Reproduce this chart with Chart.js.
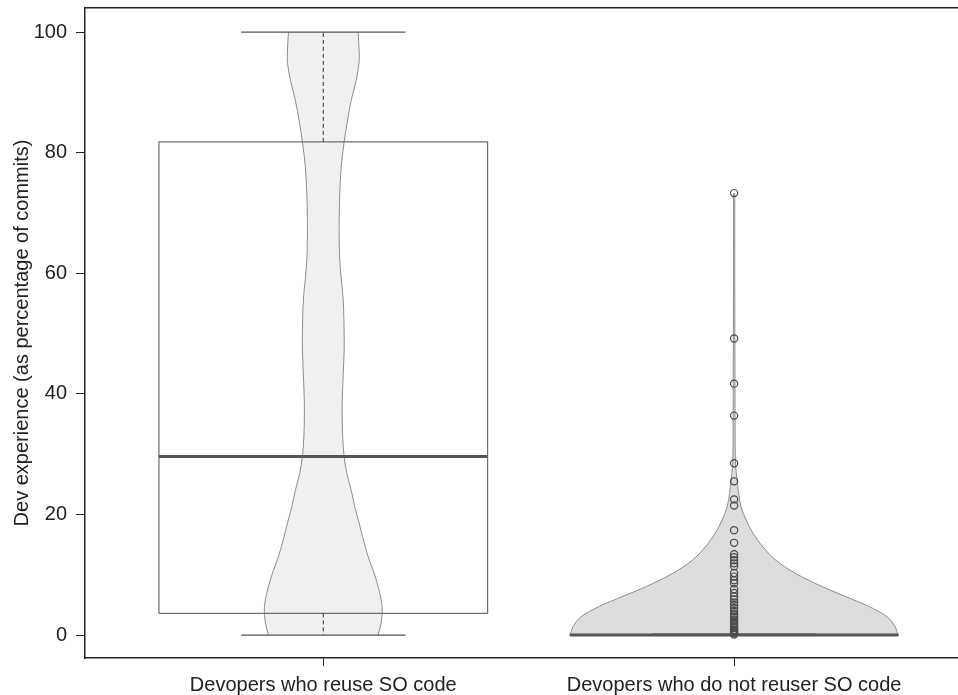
<!DOCTYPE html>
<html>
<head>
<meta charset="utf-8">
<script src="https://cdn.jsdelivr.net/npm/chart.js@4.4.1/dist/chart.umd.min.js"></script>
<style>
  html, body { margin: 0; padding: 0; background: #fff; overflow: hidden; }
  #wrap { width: 958px; height: 695px; position: relative; }
</style>
</head>
<body>
<div id="wrap"><canvas id="chart"></canvas></div>
<script>
// --- data ---
const categories = ['Devopers who reuse SO code', 'Devopers who do not reuser SO code'];
const catPos = [1, 2];

// box plot stats (percentage of commits)
const whiskerLow = [0, 0];
const q1 = [3.6, 0];
const medians = [29.6, 0];
const q3 = [81.8, 0];
const whiskerHigh = [100, 0.15];

// outliers of the second group
const outliersNoReuse = [73.3, 49.2, 41.7, 36.4, 28.5, 25.5, 22.5, 21.5, 17.4, 15.3,
  13.4, 12.9, 12.4, 11.9, 11.4, 10.3, 9.7, 9.1, 8.6, 7.6, 7.0, 6.4, 5.9, 5.4, 5.0,
  4.5, 4.0, 3.6, 3.3, 3.0, 2.6, 2.3, 2.0, 1.7, 1.4, 1.2, 0.9, 0.7, 0.5, 0.3, 0.1];

// violin outlines: value levels and relative density (1 = widest)
const violinReuseY = [0, 2, 4.6, 7.5, 10.3, 13, 16, 18.6, 21, 24, 27, 29.6, 33, 38, 43,
  47.3, 50, 55.6, 61, 65, 69.3, 73, 77.6, 81.8, 85, 88.7, 92, 95, 97, 100];
const violinReuseDensity = [0.333, 0.352, 0.358, 0.339, 0.309, 0.273, 0.242, 0.218, 0.194,
  0.170, 0.142, 0.127, 0.118, 0.115, 0.121, 0.127, 0.127, 0.121, 0.103, 0.097, 0.097,
  0.100, 0.109, 0.127, 0.145, 0.170, 0.200, 0.218, 0.218, 0.212];
const violinNoReuseY = [0, 0.3, 1.4, 3, 4.7, 6.4, 8, 10.2, 12.4, 14.6, 16.9, 19.1, 21.3,
  23.5, 25.7, 27.9, 30, 35, 45, 60, 73.3];
const violinNoReuseDensity = [1.000, 0.994, 0.980, 0.933, 0.824, 0.679, 0.539, 0.376, 0.255,
  0.176, 0.115, 0.073, 0.042, 0.028, 0.018, 0.010, 0.007, 0.006, 0.005, 0.004, 0.004];

const yTicks = [0, 20, 40, 60, 80, 100];

// --- styling ---
const BOX_HALF = 0.4;
const CAP_HALF = 0.2;
const VIOLIN_HALF = 0.4;
const violinFill = ['#eff0f2', '#dcdddf'];
const ink = '#222';

Chart.defaults.font.family = "'Liberation Sans', Arial, sans-serif";
Chart.defaults.font.size = 20;
Chart.defaults.color = ink;

const violins = [
  { y: violinReuseY, d: violinReuseDensity },
  { y: violinNoReuseY, d: violinNoReuseDensity }
];

const seg = (pts, extra) => Object.assign({
  type: 'line',
  data: pts,
  showLine: true,
  tension: 0,
  pointRadius: 0,
  fill: false
}, extra);

// keep the plot area exactly where we put it
const noPad = s => { s.paddingTop = 0; s.paddingBottom = 0; s.paddingLeft = 0; s.paddingRight = 0; };

const datasets = [];

catPos.forEach((c, i) => {
  const v = violins[i];
  // violin: left and right side, filled between
  datasets.push({
    type: 'line',
    indexAxis: 'y',
    data: v.y.map((y, k) => ({ x: c - v.d[k] * VIOLIN_HALF, y })),
    borderColor: '#8c8c8c',
    borderWidth: 1,
    backgroundColor: violinFill[i],
    tension: 0.35,
    pointRadius: 0,
    fill: '+1',
    order: 6
  });
  datasets.push({
    type: 'line',
    indexAxis: 'y',
    data: v.y.map((y, k) => ({ x: c + v.d[k] * VIOLIN_HALF, y })),
    borderColor: '#8c8c8c',
    borderWidth: 1,
    tension: 0.35,
    pointRadius: 0,
    fill: false,
    order: 5
  });

  // box
  datasets.push(seg([
    { x: c - BOX_HALF, y: q1[i] }, { x: c + BOX_HALF, y: q1[i] },
    { x: c + BOX_HALF, y: q3[i] }, { x: c - BOX_HALF, y: q3[i] },
    { x: c - BOX_HALF, y: q1[i] }
  ], { borderColor: '#6e6e6e', borderWidth: 1.2, order: 4 }));

  // dashed whiskers
  datasets.push(seg([{ x: c, y: q1[i] }, { x: c, y: whiskerLow[i] }],
    { borderColor: '#333', borderWidth: 1, borderDash: [4, 3], order: 3 }));
  datasets.push(seg([{ x: c, y: q3[i] }, { x: c, y: whiskerHigh[i] }],
    { borderColor: '#333', borderWidth: 1, borderDash: [4, 3], order: 3 }));

  // whisker caps
  datasets.push(seg([{ x: c - CAP_HALF, y: whiskerLow[i] }, { x: c + CAP_HALF, y: whiskerLow[i] }],
    { borderColor: '#555', borderWidth: 1.2, order: 3 }));
  datasets.push(seg([{ x: c - CAP_HALF, y: whiskerHigh[i] }, { x: c + CAP_HALF, y: whiskerHigh[i] }],
    { borderColor: '#555', borderWidth: 1.2, order: 3 }));

  // median
  datasets.push(seg([{ x: c - BOX_HALF, y: medians[i] }, { x: c + BOX_HALF, y: medians[i] }],
    { borderColor: '#555', borderWidth: 3, order: 2 }));
});

// outlier points
datasets.push({
  type: 'line',
  showLine: false,
  data: outliersNoReuse.map(y => ({ x: catPos[1], y })),
  pointStyle: 'circle',
  pointRadius: 3.6,
  pointBorderWidth: 1.2,
  pointBorderColor: '#4a4a4a',
  pointBackgroundColor: 'rgba(0,0,0,0)',
  order: 1
});

new Chart(document.getElementById('chart'), {
  type: 'line',
  data: { datasets },
  options: {
    responsive: true,
    maintainAspectRatio: false,
    animation: false,
    events: [],
    layout: { autoPadding: false, padding: { top: 8, left: 0, right: 0, bottom: 0 } },
    plugins: { legend: { display: false }, tooltip: { enabled: false } },
    scales: {
      x: {
        type: 'linear',
        min: 0.42,
        max: 2.545,
        afterBuildTicks: s => { s.ticks = catPos.map(value => ({ value })); },
        afterFit: s => { s.height = 37; noPad(s); },
        ticks: {
          autoSkip: false,
          maxRotation: 0,
          padding: 7,
          callback: v => categories[catPos.indexOf(v)]
        },
        grid: { drawOnChartArea: false, drawTicks: true, tickLength: 8, color: ink },
        border: { display: true, color: ink, width: 1.5 }
      },
      xTop: {
        type: 'linear',
        position: 'top',
        min: 0.42,
        max: 2.545,
        afterFit: s => { s.height = 0; noPad(s); },
        ticks: { display: false },
        grid: { display: false, drawTicks: false },
        border: { display: true, color: ink, width: 1.5 }
      },
      y: {
        type: 'linear',
        min: -3.8,
        max: 104,
        afterBuildTicks: s => { s.ticks = yTicks.map(value => ({ value })); },
        afterFit: s => { s.width = 85; noPad(s); },
        ticks: { padding: 9 },
        grid: { drawOnChartArea: false, drawTicks: true, tickLength: 9, color: ink },
        border: { display: true, color: ink, width: 1.5 },
        title: {
          display: true,
          text: 'Dev experience (as percentage of commits)',
          padding: { top: 10, bottom: 0 },
          font: { size: 20 }
        }
      }
    }
  }
});
</script>
</body>
</html>
